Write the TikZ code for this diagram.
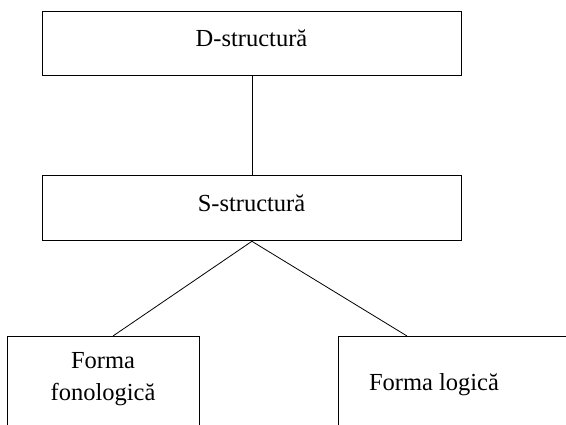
\documentclass[tikz,border=0pt]{standalone}
\usepackage{fontspec}
\setmainfont{Liberation Serif}
\begin{document}
\begin{tikzpicture}[x=1pt,y=-1pt,
  box/.style={draw=black,line width=0.8pt,inner sep=0pt,anchor=north west},
  lbl/.style={inner sep=0pt,anchor=base,font=\fontsize{24.5}{30}\selectfont},
  conn/.style={draw=black,line width=0.8pt}]
\useasboundingbox (0,0) rectangle (566,425);
\clip (0,0) rectangle (566,425);
% boxes
\node[box,minimum width=419pt,minimum height=64.5pt] (D) at (42,11) {};
\node[box,minimum width=419pt,minimum height=65pt] (S) at (42,175.5) {};
\node[box,minimum width=192pt,minimum height=120pt] (L) at (7,336) {};
\node[box,minimum width=260pt,minimum height=120pt] (R) at (338,336) {};
% labels
\node[lbl] (Dt) at (251.5,46.5) {D-structură};
\node[lbl] (St) at (251.5,211.5) {S-structură};
\node[lbl] (Lt1) at (103,369) {Forma};
\node[lbl] (Lt2) at (103,400) {fonologică};
\node[lbl] (Rt) at (434,391) {Forma logică};
% connector anchors
\coordinate (Lc) at (113,336);
\coordinate (Rc) at (407,336);
\draw[conn] (D.south) -- (S.north);
\draw[conn] (S.south) -- (Lc);
\draw[conn] (S.south) -- (Rc);
\end{tikzpicture}
\end{document}
